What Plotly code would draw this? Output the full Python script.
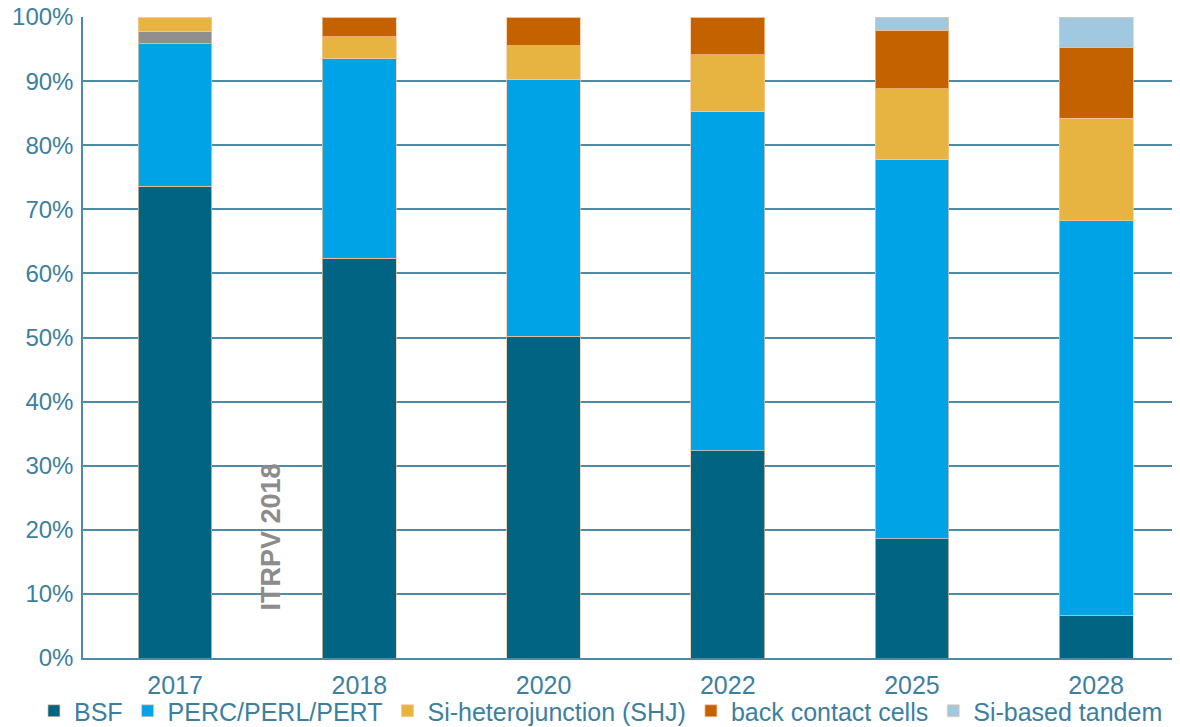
import plotly.graph_objects as go

years = ["2017", "2018", "2020", "2022", "2025", "2028"]
bsf = [73.6, 62.4, 50.2, 32.3, 18.6, 6.6]
perc = [22.2, 31.2, 40.1, 53.0, 59.2, 61.6]
other = [2.0, 0, 0, 0, 0, 0]
shj = [2.2, 3.3, 5.2, 8.8, 11.0, 16.0]
bc = [0, 3.1, 4.5, 5.9, 9.1, 11.1]
tandem = [0, 0, 0, 0, 2.1, 4.7]
ytick_vals = [0, 10, 20, 30, 40, 50, 60, 70, 80, 90, 100]
ytick_text = ["0%", "10%", "20%", "30%", "40%", "50%", "60%", "70%", "80%", "90%", "100%"]

series = [
    ("BSF", bsf, "#006482", True),
    ("PERC/PERL/PERT", perc, "#00A3E6", True),
    ("other", other, "#8F8F8F", False),
    ("Si-heterojunction (SHJ)", shj, "#E8B441", True),
    ("back contact cells", bc, "#C46200", True),
    ("Si-based tandem", tandem, "#A0C8DF", True),
]

teal = "#3D7FA0"
fig = go.Figure()
for name, vals, color, show in series:
    fig.add_trace(go.Bar(
        x=years, y=vals, name=name, showlegend=show,
        marker=dict(color=color, line=dict(color="rgba(250,200,160,0.7)", width=1)),
    ))

fig.update_layout(
    width=1172, height=719,
    barmode="stack", bargap=0.6,
    margin=dict(l=75, r=0, t=9, b=69, autoexpand=False),
    plot_bgcolor="white", paper_bgcolor="white",
    font=dict(family="Arial, Liberation Sans, sans-serif", color=teal),
    legend=dict(orientation="h", x=-0.0447, xanchor="left", y=-0.0827, yanchor="middle",
                font=dict(size=25, color=teal), traceorder="normal",
                bgcolor="rgba(0,0,0,0)", itemwidth=30, tracegroupgap=0),
    annotations=[dict(text="<b>ITRPV 2018</b>", x=0.1714, y=0.188, xref="paper", yref="paper",
                      textangle=-90, showarrow=False, font=dict(size=27, color="#8C8C8C"),
                      xanchor="center", yanchor="middle")],
)
fig.update_xaxes(range=[-0.5, 5.455], showline=True, linecolor="#4D8CA5", linewidth=1.5,
                 showgrid=False, ticks="", tickfont=dict(size=25, color=teal), ticklabelstandoff=4)
fig.update_yaxes(range=[0, 100], tickmode="array", tickvals=ytick_vals, ticktext=ytick_text,
                 showgrid=True, gridcolor="#4D8CA5", gridwidth=1.5, zeroline=False,
                 showline=True, linecolor="#4D8CA5", linewidth=1.5, ticks="",
                 ticklabeloverflow="allow",
                 tickfont=dict(size=24, color=teal), ticklabelstandoff=3)

fig.write_html("out.html")
